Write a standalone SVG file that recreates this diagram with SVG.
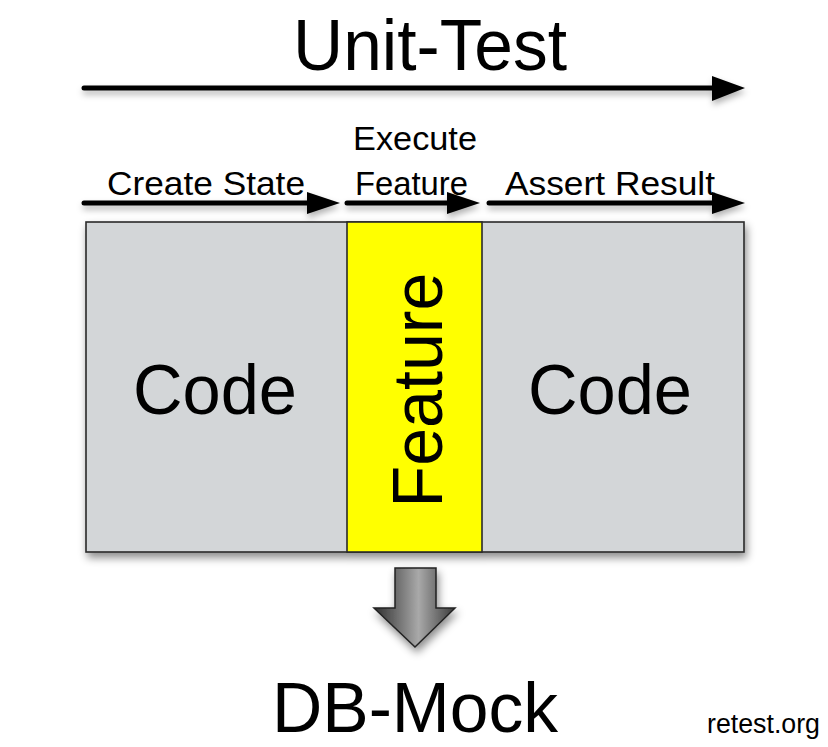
<svg xmlns="http://www.w3.org/2000/svg" width="828" height="747" viewBox="0 0 828 747">
<defs>
<style>
.t{font-family:"Liberation Sans",Arial,Helvetica,sans-serif;fill:#000}
.big{font-size:70px}
.sm{font-size:32.5px}
.ln{stroke:#000;stroke-width:5;stroke-linecap:round;fill:none}
.hd{fill:#000}
.blk{stroke:#2a2a2a;stroke-width:1.6}
</style>
<filter id="sh" x="-10%" y="-10%" width="130%" height="140%">
<feDropShadow dx="2" dy="5" stdDeviation="4" flood-color="#000" flood-opacity="0.45"/>
</filter>
<filter id="sha" x="-5%" y="-50%" width="110%" height="250%">
<feDropShadow dx="1" dy="4" stdDeviation="3" flood-color="#000" flood-opacity="0.3"/>
</filter>
<linearGradient id="ag" x1="0" y1="0" x2="1" y2="0">
<stop offset="0" stop-color="#2e2e2e"/>
<stop offset="0.55" stop-color="#a9a9a9"/>
<stop offset="1" stop-color="#3a3a3a"/>
</linearGradient>
</defs>
<rect width="828" height="747" fill="#fff"/>

<g id="title">
<text class="t" font-size="72" x="293" y="70" textLength="274" lengthAdjust="spacingAndGlyphs">Unit-Test</text>
</g>

<g id="connectors" filter="url(#sha)">
<line class="ln" x1="84" y1="88" x2="716" y2="88"/>
<polygon class="hd" points="712,76 745,88 712,101"/>
<line class="ln" x1="84" y1="203" x2="310" y2="203"/>
<polygon class="hd" points="307,192 340,203 307,214"/>
<line class="ln" x1="347" y1="203" x2="450" y2="203"/>
<polygon class="hd" points="447,192 480,203 447,214"/>
<line class="ln" x1="489" y1="203" x2="716" y2="203"/>
<polygon class="hd" points="712,192 745,203 712,214"/>
</g>

<g id="labels">
<text class="t sm" x="107" y="195" textLength="198" lengthAdjust="spacingAndGlyphs">Create State</text>
<text class="t sm" x="353" y="150" textLength="124" lengthAdjust="spacingAndGlyphs">Execute</text>
<text class="t sm" x="355" y="195" textLength="113" lengthAdjust="spacingAndGlyphs">Feature</text>
<text class="t sm" x="505" y="195" textLength="210" lengthAdjust="spacingAndGlyphs">Assert Result</text>
</g>

<g id="block" filter="url(#sh)">
<rect x="86" y="222" width="658" height="330" fill="#d3d6d8" class="blk"/>
<rect x="347" y="222" width="135" height="330" fill="#ffff00" class="blk"/>
</g>

<g id="code-left">
<text class="t big" x="133" y="414" textLength="164" lengthAdjust="spacingAndGlyphs">Code</text>
</g>
<g id="feature">
<text class="t" font-size="71" x="442" y="390" text-anchor="middle" textLength="235" lengthAdjust="spacingAndGlyphs" transform="rotate(-90 442 390)">Feature</text>
</g>
<g id="code-right">
<text class="t big" x="528" y="414" textLength="164" lengthAdjust="spacingAndGlyphs">Code</text>
</g>

<g id="down-arrow" filter="url(#sh)">
<polygon points="395,568 436,568 436,608 455,608 415,647 374,608 395,608" fill="url(#ag)" stroke="#222" stroke-width="1.5" stroke-linejoin="miter"/>
</g>

<g id="db-mock">
<text class="t big" x="272" y="732" textLength="286" lengthAdjust="spacingAndGlyphs">DB-Mock</text>
</g>

<g id="credit">
<text class="t" x="707" y="733" font-size="27" textLength="113" lengthAdjust="spacingAndGlyphs">retest.org</text>
</g>
</svg>
